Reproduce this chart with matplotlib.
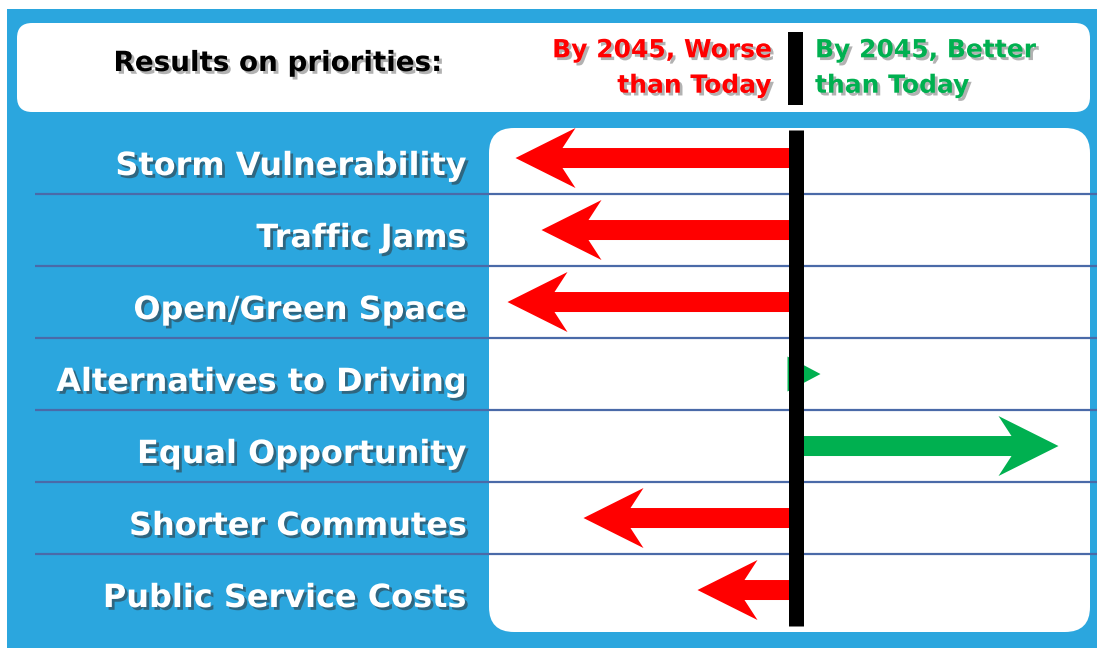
import matplotlib
matplotlib.use("Agg")
import matplotlib.pyplot as plt
import matplotlib.patheffects as pe
from matplotlib.patches import FancyBboxPatch, Rectangle, Polygon
from matplotlib.transforms import blended_transform_factory

# ---------------- data ----------------
priorities = ["Storm Vulnerability", "Traffic Jams", "Open/Green Space",
              "Alternatives to Driving", "Equal Opportunity",
              "Shorter Commutes", "Public Service Costs"]
change_2045 = [-2.80, -2.54, -2.88, 0.25, 2.63, -2.12, -0.98]
title_text = "Results on priorities:"
worse_label = "By 2045, Worse\nthan Today"
better_label = "By 2045, Better\nthan Today"

# ---------------- style ----------------
BLUE = "#2ba6de"
RED = "#ff0000"
GREEN = "#00b050"
LINE = "#4a6aa8"
FONT = "DejaVu Sans"

W, H = 1097, 648
fig = plt.figure(figsize=(W / 100, H / 100), dpi=100)
fig.patch.set_facecolor("white")

# background / decoration axes in pixel units
bg = fig.add_axes([0, 0, 1, 1])
bg.set_xlim(0, W)
bg.set_ylim(H, 0)
bg.axis("off")
bg.add_patch(Rectangle((7, 9), W - 7, H - 9, facecolor=BLUE, edgecolor="none", zorder=0))
bg.add_patch(FancyBboxPatch((17 + 15, 23 + 15), 1090 - 17 - 30, 112 - 23 - 30,
                            boxstyle="round,pad=15", facecolor="white",
                            edgecolor="none", zorder=1))
bg.add_patch(FancyBboxPatch((489 + 25, 128 + 25), 1090 - 489 - 50, 632 - 128 - 50,
                            boxstyle="round,pad=25", facecolor="white",
                            edgecolor="none", zorder=1))
bg.add_patch(Rectangle((788, 32), 15, 73, facecolor="black", edgecolor="none", zorder=2))

shadow = [pe.SimplePatchShadow(offset=(2, -2), shadow_rgbFace="#666666", alpha=0.5), pe.Normal()]
bg.text(278, 63, title_text, ha="center", va="center", fontsize=20,
        fontweight="bold", family=FONT, color="black", path_effects=shadow, zorder=3)
bg.text(772, 68, worse_label, ha="right", va="center", multialignment="right",
        fontsize=18, fontweight="bold", family=FONT, color=RED, linespacing=1.6,
        path_effects=shadow, zorder=3)
bg.text(815, 68, better_label, ha="left", va="center", multialignment="left",
        fontsize=18, fontweight="bold", family=FONT, color=GREEN, linespacing=1.6,
        path_effects=shadow, zorder=3)

# data axes covering the lower white box
ax = fig.add_axes([489 / W, 1 - 632 / H, (1090 - 489) / W, (632 - 128) / H])
ax.set_xlim((489 - 795.5) / 100, (1090 - 795.5) / 100)
n = len(priorities)
ax.set_ylim(n - 0.5 + 0.083, -0.5 + 0.083)
ax.axis("off")
ax.patch.set_visible(False)

# separators between rows, spanning the whole blue panel
tr = blended_transform_factory(fig.transFigure, ax.transData)
seps = [i + 0.5 for i in range(n - 1)]
ax.hlines(seps, 35 / W, 1.0, transform=tr, colors=LINE, linewidth=1.6,
          clip_on=False, zorder=2)

# arrows
px_x, px_y = 100.0, 72.0
sw = 10 / px_y
hw = 30 / px_y
hl = 60 / px_x
notch = 13 / px_x
min_head = 33 / px_x
for i, v in enumerate(change_2045):
    d = 1 if v > 0 else -1
    L = abs(v)
    col = GREEN if v > 0 else RED
    if L <= hl:
        hle = max(L, min_head)
        hwe = 17.5 / px_y
        pts = [(v, i), (v - d * hle, i - hwe), (v - d * hle, i + hwe)]
    else:
        bx = v - d * hl
        nx = v - d * (hl - notch)
        pts = [(v, i), (bx, i - hw), (nx, i - sw), (0, i - sw),
               (0, i + sw), (nx, i + sw), (bx, i + hw)]
    ax.add_patch(Polygon(pts, closed=True, facecolor=col, edgecolor="none", zorder=3))

# center line
ax.plot([0, 0], [-0.5 + 0.083 + 2 / px_y, n - 0.5 + 0.083 - 6 / px_y], color="black",
        linewidth=15 * 0.72, solid_capstyle="butt", zorder=4)

# row labels
label_shadow = [pe.SimplePatchShadow(offset=(2, -2), shadow_rgbFace="#333333", alpha=0.55), pe.Normal()]
for i, name in enumerate(priorities):
    ax.text((467 - 795.5) / 100, i + 17 / px_y, name, ha="right", va="baseline",
            fontsize=23, fontweight="bold", family=FONT, color="white",
            path_effects=label_shadow, clip_on=False, zorder=5)

fig.savefig("out.png", dpi=100)
